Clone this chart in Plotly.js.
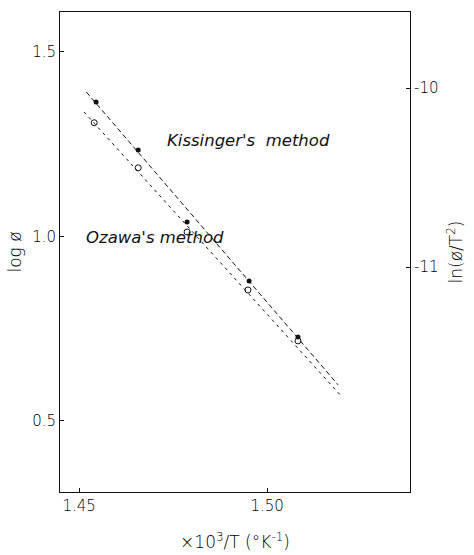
<!DOCTYPE html>
<html>
<head>
<meta charset="utf-8">
<script src="https://cdn.plot.ly/plotly-3.0.1.min.js"></script>
<style>html,body{margin:0;padding:0;background:#fff;}#chart{width:474px;height:555px;}</style>
</head>
<body>
<div id="chart"></div>
<script>
// x = 10^3/T (K^-1)
var kissingerX = [1.4545, 1.4657, 1.4787, 1.4952, 1.5082];
var kissingerY = [-10.078, -10.346, -10.749, -11.078, -11.391]; // ln(phi/T^2)
var ozawaX = [1.4540, 1.4657, 1.4787, 1.4949, 1.5082];
var ozawaY = [1.308, 1.186, 1.012, 0.855, 0.717]; // log phi
var kissingerFitX = [1.4519, 1.5189];
var kissingerFitY = [-10.022, -11.659];
var ozawaFitX = [1.4513, 1.5194];
var ozawaFitY = [1.337, 0.571];
var xTickVals = [1.45, 1.50];
var xTickText = ['1.45', '1.50'];
var yTickVals = [0.5, 1.0, 1.5];
var yTickText = ['0.5', '1.0', '1.5'];
var y2TickVals = [-10, -11];
var y2TickText = ['-10', '-11'];

var ink = '#111';
var fam = 'DejaVu Sans, sans-serif';
var traces = [
  {x: kissingerFitX, y: kissingerFitY, yaxis: 'y2', mode: 'lines',
   line: {color: ink, width: 1, dash: '5px,3px'}, hoverinfo: 'skip'},
  {x: ozawaFitX, y: ozawaFitY, mode: 'lines',
   line: {color: ink, width: 1, dash: '3px,4px'}, hoverinfo: 'skip'},
  {x: kissingerX, y: kissingerY, yaxis: 'y2', mode: 'markers',
   marker: {symbol: 'circle', size: 5, color: ink}},
  {x: ozawaX, y: ozawaY, mode: 'markers',
   marker: {symbol: 'circle-open', size: 6, color: ink, line: {width: 1, color: ink}}}
];

var tickFont = {family: fam, size: 15, color: '#000', weight: 300};
var titleFont = {family: fam, size: 17, color: '#000', weight: 300};
var annFont = {family: fam, size: 16.5, color: ink, style: 'italic', weight: 300};
var layout = {
  width: 474, height: 555,
  margin: {l: 60, r: 64, t: 12, b: 63},
  paper_bgcolor: '#fff', plot_bgcolor: '#fff',
  showlegend: false,
  font: tickFont,
  xaxis: {
    range: [1.4449, 1.5380], tickvals: xTickVals, ticktext: xTickText, tickfont: tickFont,
    ticks: 'inside', ticklen: 4, tickcolor: ink, showgrid: false, zeroline: false,
    showline: true, linecolor: ink, linewidth: 1, mirror: true,
    title: {text: '×10<sup>3</sup>/T (°K<sup>-1</sup>)', font: titleFont, standoff: 22}
  },
  yaxis: {
    range: [0.3076, 1.608], tickvals: yTickVals, ticktext: yTickText, tickfont: tickFont,
    ticks: 'inside', ticklen: 4, tickcolor: ink, showgrid: false, zeroline: false,
    showline: true, linecolor: ink, linewidth: 1,
    title: {text: 'log ø', font: titleFont, standoff: 6}
  },
  yaxis2: {
    overlaying: 'y', side: 'right',
    range: [-12.257, -9.575], tickvals: y2TickVals, ticktext: y2TickText, tickfont: tickFont,
    ticks: 'inside', ticklen: 4, tickcolor: ink, showgrid: false, zeroline: false,
    showline: true, linecolor: ink, linewidth: 1,
    title: {text: 'ln(ø/T<sup>2</sup>)', font: titleFont, standoff: 12}
  },
  annotations: [
    {x: 1.4951, y: 1.2588, xref: 'x', yref: 'y', text: "Kissinger's  method", showarrow: false,
     font: annFont},
    {x: 1.4703, y: 0.996, xref: 'x', yref: 'y', text: "Ozawa's method", showarrow: false,
     font: annFont}
  ]
};
Plotly.newPlot('chart', traces, layout, {displayModeBar: false, staticPlot: true});
</script>
</body>
</html>
